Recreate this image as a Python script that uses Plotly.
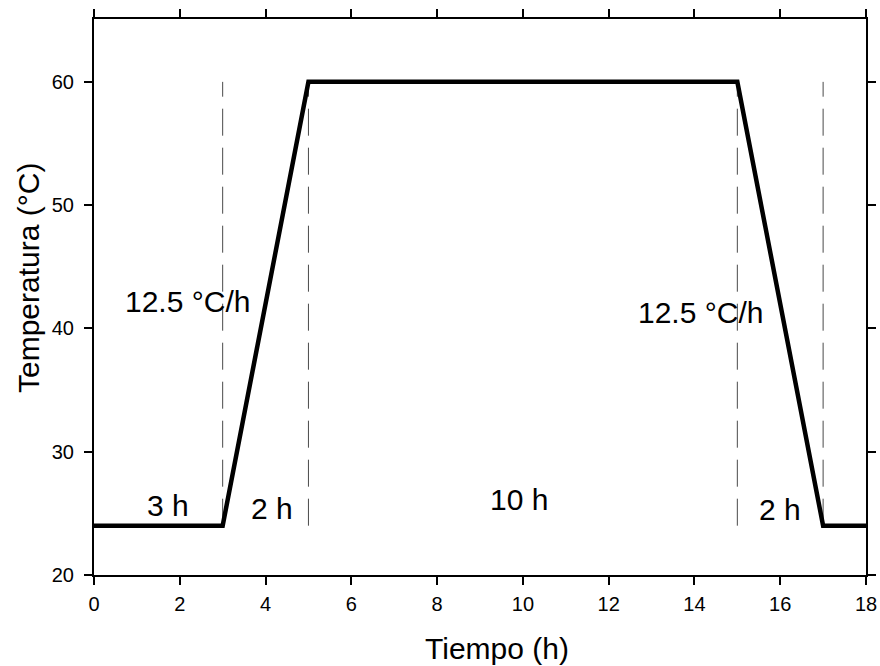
import plotly.graph_objects as go

# Thermal program: time (h) and temperature (°C) at each breakpoint
tiempo = [0, 3, 5, 15, 17, 18]
temperatura = [24, 24, 60, 60, 24, 24]

# Stage boundaries marked with dashed verticals
limites = [3, 5, 15, 17]
t_min, t_max = 24, 60

# Stage labels
etiquetas = ["3 h", "2 h", "10 h", "2 h", "12.5 °C/h", "12.5 °C/h"]
etiq_x = [1.73, 4.15, 9.9, 16.0, 2.17, 14.13]
etiq_y = [25.6, 25.4, 26.1, 25.3, 42.15, 41.3]

x_ticks = list(range(0, 19, 2))
y_ticks = [20, 30, 40, 50, 60]

FONT = "Liberation Sans, Arial, sans-serif"

fig = go.Figure()

for xb in limites:
    fig.add_trace(go.Scatter(
        x=[xb, xb], y=[t_min, t_max], mode="lines",
        line=dict(color="#4a4a4a", width=1, dash="27px,12px"),
        hoverinfo="skip", showlegend=False,
    ))

fig.add_trace(go.Scatter(
    x=tiempo, y=temperatura, mode="lines",
    line=dict(color="black", width=4.5),
    showlegend=False,
))

for txt, xa, ya in zip(etiquetas, etiq_x, etiq_y):
    fig.add_annotation(x=xa, y=ya, text=txt, showarrow=False,
                       font=dict(family=FONT, size=30, color="black"),
                       xanchor="center", yanchor="middle")

# Axis titles
fig.add_annotation(text="Tiempo (h)", xref="paper", yref="paper",
                   x=(497 - 94) / 772, y=-(648 - 575) / 556,
                   showarrow=False, xanchor="center", yanchor="middle",
                   font=dict(family=FONT, size=30, color="black"))
fig.add_annotation(text="Temperatura (°C)", xref="paper", yref="paper",
                   x=-(94 - 28) / 772, y=(575 - 278) / 556, textangle=-90,
                   showarrow=False, xanchor="center", yanchor="middle",
                   font=dict(family=FONT, size=30, color="black"))

axis_common = dict(
    showgrid=False, zeroline=False, showline=True, linecolor="black",
    linewidth=2, mirror="ticks", ticks="outside", ticklen=8, tickwidth=2,
    tickcolor="black", tickfont=dict(family=FONT, size=20, color="black"),
    automargin=False,
)

fig.update_xaxes(range=[0, 18], tickvals=x_ticks, ticklabelstandoff=2,
                 **axis_common)
fig.update_yaxes(range=[20, 65.1], tickvals=y_ticks, ticklabelstandoff=6,
                 **axis_common)

fig.update_layout(
    width=880, height=666,
    margin=dict(l=94, r=14, t=19, b=91),
    plot_bgcolor="white", paper_bgcolor="white",
    font=dict(family=FONT),
)

fig.write_html("out.html")
